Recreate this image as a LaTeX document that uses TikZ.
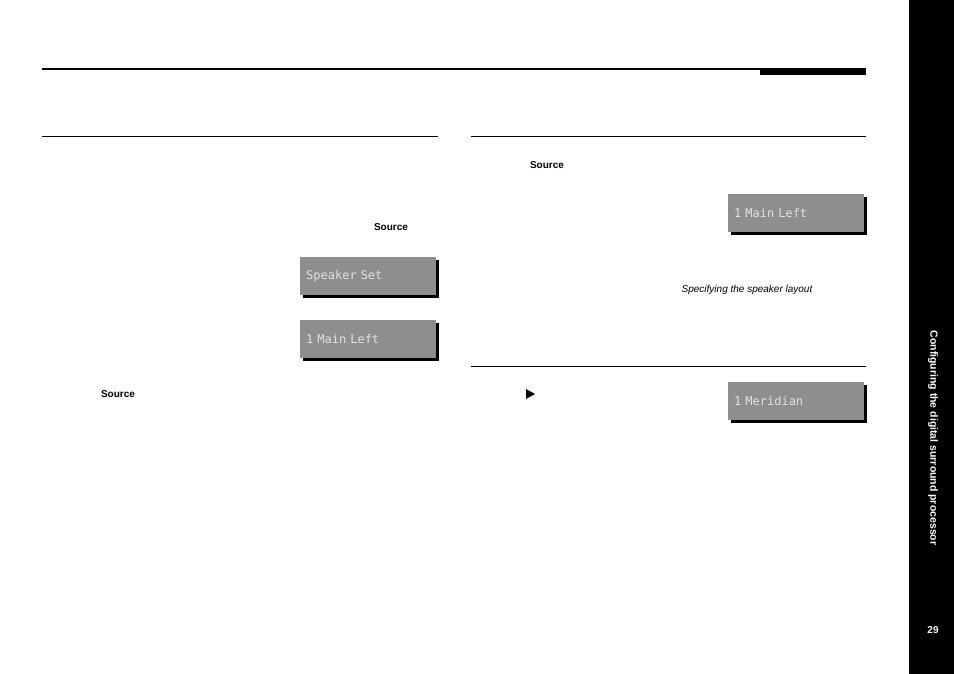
\documentclass[tikz,border=0pt]{standalone}
\usepackage{fontspec}
\setmainfont{Liberation Sans}
\newfontfamily\lcdfont{DejaVu Sans Mono}
\usetikzlibrary{shadows}
\begin{document}
\begin{tikzpicture}[x=1pt,y=-1pt,
  lcd/.style={fill={rgb,255:red,142;green,142;blue,142},minimum width=136pt,minimum height=38pt,inner sep=0pt,
    font=\lcdfont\fontsize{12}{12}\selectfont,text={rgb,255:red,225;green,225;blue,225},
    text width=124pt,align=left,anchor=north west,
    drop shadow={shadow xshift=3pt,shadow yshift=-3pt,fill=black,opacity=1}},
  lbl/.style={font=\bfseries\fontsize{10}{12}\selectfont}]
\useasboundingbox (0,0) rectangle (954,674);
\fill (909,0) rectangle (954,674);
\draw[line width=1.5pt] (42,69) -- (866,69);
\fill (760,68) rectangle (866,75);
\draw[line width=0.6pt] (42,136) -- (438,136);
\draw[line width=0.6pt] (471,136) -- (866,136);
\draw[line width=0.6pt] (471,366) -- (866,366);
\node[lcd] (d1) at (300,257) {Speaker Set};
\node[lcd] (d2) at (300,320) {1 Main Left};
\node[lcd] (d3) at (728,194) {1 Main Left};
\node[lcd] (d4) at (728,382) {1 Meridian};
\node[lbl] (s1) at (391,227) {Source};
\node[lbl] (s2) at (118,394) {Source};
\node[lbl] (s3) at (547,165) {Source};
\node[font=\itshape\fontsize{10}{12}\selectfont] (cap) at (747,290) {Specifying the speaker layout};
\fill (526,389) -- (535,394) -- (526,399) -- cycle;
\node[white,rotate=-90,font=\bfseries\fontsize{10.5}{12}\selectfont] (side) at (933,438) {Configuring the digital surround processor};
\node[white,font=\bfseries\fontsize{10}{12}\selectfont] (pg) at (933,630) {29};
\end{tikzpicture}
\end{document}
